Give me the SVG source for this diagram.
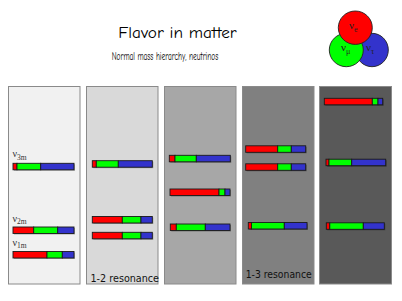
<svg xmlns="http://www.w3.org/2000/svg" width="402" height="301" viewBox="0 0 402 301">
<style>
.panel{stroke:#8a8a8a;stroke-width:1}
.r{fill:#ff0000}.g{fill:#00ff00}.b{fill:#3333cc}
.seg{stroke:#1a1a1a;stroke-width:0.9}
.sh{fill:#000;opacity:0.3}
.title{font-family:"Comic Sans MS","Comic Neue","DejaVu Sans",sans-serif;fill:#000}
.lab{font-family:"Liberation Serif","DejaVu Serif",serif;fill:#333}
.res{font-family:"Comic Sans MS","DejaVu Sans",sans-serif;font-size:10.5px;fill:#111}
.nu{font-family:"Liberation Serif","DejaVu Serif",serif;font-size:11px;fill:#222}
</style>
<rect width="402" height="301" fill="#fff"/>
<g id="title">
<text class="title" x="118.3" y="38.3" font-size="16" textLength="118.4" lengthAdjust="spacingAndGlyphs">Flavor in matter</text>
<text class="title" x="111.7" y="59.5" font-size="11" textLength="106.6" lengthAdjust="spacingAndGlyphs">Normal mass hierarchy, neutrinos</text>
</g>
<g id="flavors" stroke="#222" stroke-width="0.9">
<ellipse cx="372" cy="50" rx="16.3" ry="16.7" fill="#3333cc"/>
<ellipse cx="346.3" cy="50" rx="17" ry="16.7" fill="#00ff00"/>
<ellipse cx="355.3" cy="27.7" rx="17" ry="16.7" fill="#ff0000"/>
<g stroke="none">
<text class="nu" x="349" y="29">ν<tspan font-size="8" dy="3">e</tspan></text>
<text class="nu" x="341" y="51">ν<tspan font-size="8" dy="3">μ</tspan></text>
<text class="nu" x="366" y="51">ν<tspan font-size="8" dy="3">τ</tspan></text>
</g>
</g>
<g id="panel1">
<rect class="panel" x="8.5" y="86.5" width="71.5" height="197.5" fill="#f1f1f1"/>
<text class="lab" x="12.5" y="157" font-size="10">ν<tspan font-size="7.5" dy="2.5">3m</tspan></text>
<text class="lab" x="12.5" y="221.5" font-size="10">ν<tspan font-size="7.5" dy="2.5">2m</tspan></text>
<text class="lab" x="12.5" y="245.5" font-size="10">ν<tspan font-size="7.5" dy="2.5">1m</tspan></text>
<rect class="sh" x="14" y="164.3" width="61" height="6.5"/>
<rect class="seg r" x="13" y="163.3" width="4" height="6.5"/><rect class="seg g" x="17" y="163.3" width="23.7" height="6.5"/><rect class="seg b" x="40.7" y="163.3" width="33.3" height="6.5"/>
<rect class="sh" x="14" y="228" width="61" height="6.5"/>
<rect class="seg r" x="13" y="227" width="20.7" height="6.5"/><rect class="seg g" x="33.7" y="227" width="24" height="6.5"/><rect class="seg b" x="57.7" y="227" width="16.3" height="6.5"/>
<rect class="sh" x="14" y="252.5" width="61" height="6.5"/>
<rect class="seg r" x="13" y="251.5" width="34" height="6.5"/><rect class="seg g" x="47" y="251.5" width="15.3" height="6.5"/><rect class="seg b" x="62.3" y="251.5" width="11.7" height="6.5"/>
</g>
<g id="panel2">
<rect class="panel" x="86.5" y="86.5" width="71.5" height="197.5" fill="#d9d9d9"/>
<rect class="sh" x="93.3" y="161.7" width="60" height="6.5"/>
<rect class="seg r" x="92.3" y="160.7" width="4" height="6.5"/><rect class="seg g" x="96.3" y="160.7" width="22" height="6.5"/><rect class="seg b" x="118.3" y="160.7" width="34" height="6.5"/>
<rect class="sh" x="93.3" y="217.5" width="60" height="6.5"/>
<rect class="seg r" x="92.3" y="216.5" width="30" height="6.5"/><rect class="seg g" x="122.3" y="216.5" width="18.7" height="6.5"/><rect class="seg b" x="141" y="216.5" width="11.3" height="6.5"/>
<rect class="sh" x="93.3" y="233.3" width="60" height="6.5"/>
<rect class="seg r" x="92.3" y="232.3" width="30" height="6.5"/><rect class="seg g" x="122.3" y="232.3" width="18.7" height="6.5"/><rect class="seg b" x="141" y="232.3" width="11.3" height="6.5"/>
<text class="res" x="90.5" y="281.5" textLength="68.5" lengthAdjust="spacingAndGlyphs">1-2 resonance</text>
</g>
<g id="panel3">
<rect class="panel" x="164.5" y="86.5" width="71.5" height="197.5" fill="#a7a7a7"/>
<rect class="sh" x="170.3" y="156.3" width="61" height="6.5"/>
<rect class="seg r" x="169.3" y="155.3" width="5.7" height="6.5"/><rect class="seg g" x="175" y="155.3" width="21.3" height="6.5"/><rect class="seg b" x="196.3" y="155.3" width="34" height="6.5"/>
<rect class="sh" x="171" y="190" width="60" height="6.5"/>
<rect class="seg r" x="170" y="189" width="49" height="6.5"/><rect class="seg g" x="219" y="189" width="6" height="6.5"/><rect class="seg b" x="225" y="189" width="5" height="6.5"/>
<rect class="sh" x="171.3" y="225" width="59.7" height="6.5"/>
<rect class="seg r" x="170.3" y="224" width="6" height="6.5"/><rect class="seg g" x="176.3" y="224" width="29" height="6.5"/><rect class="seg b" x="205.3" y="224" width="24.7" height="6.5"/>
</g>
<g id="panel4">
<rect class="panel" x="242.5" y="86.5" width="71.5" height="197.5" fill="#808080"/>
<rect class="sh" x="246.7" y="146.8" width="60" height="6.5"/>
<rect class="seg r" x="245.7" y="145.8" width="32" height="6.5"/><rect class="seg g" x="277.7" y="145.8" width="13.6" height="6.5"/><rect class="seg b" x="291.3" y="145.8" width="14.4" height="6.5"/>
<rect class="sh" x="246.7" y="164.8" width="60" height="6.5"/>
<rect class="seg r" x="245.7" y="163.8" width="32" height="6.5"/><rect class="seg g" x="277.7" y="163.8" width="13.6" height="6.5"/><rect class="seg b" x="291.3" y="163.8" width="14.4" height="6.5"/>
<rect class="sh" x="249.3" y="223.5" width="58.7" height="6.5"/>
<rect class="seg r" x="248.3" y="222.5" width="3.2" height="6.5"/><rect class="seg g" x="251.5" y="222.5" width="32.8" height="6.5"/><rect class="seg b" x="284.3" y="222.5" width="22.7" height="6.5"/>
<text class="res" x="245.7" y="277.5" textLength="66" lengthAdjust="spacingAndGlyphs">1-3 resonance</text>
</g>
<g id="panel5">
<rect class="panel" x="319.5" y="86.5" width="72" height="197.5" fill="#595959"/>
<rect class="sh" x="325.3" y="99.3" width="58.4" height="6.5"/>
<rect class="seg r" x="324.3" y="98.3" width="48" height="6.5"/><rect class="seg g" x="372.3" y="98.3" width="5.7" height="6.5"/><rect class="seg b" x="378" y="98.3" width="4.7" height="6.5"/>
<rect class="sh" x="327" y="160.2" width="59.7" height="6.5"/>
<rect class="seg r" x="326" y="159.2" width="3" height="6.5"/><rect class="seg g" x="329" y="159.2" width="22.7" height="6.5"/><rect class="seg b" x="351.7" y="159.2" width="34" height="6.5"/>
<rect class="sh" x="327.3" y="223.8" width="58" height="6.5"/>
<rect class="seg r" x="326.3" y="222.8" width="3.5" height="6.5"/><rect class="seg g" x="329.8" y="222.8" width="33.5" height="6.5"/><rect class="seg b" x="363.3" y="222.8" width="21" height="6.5"/>
</g>
</svg>
